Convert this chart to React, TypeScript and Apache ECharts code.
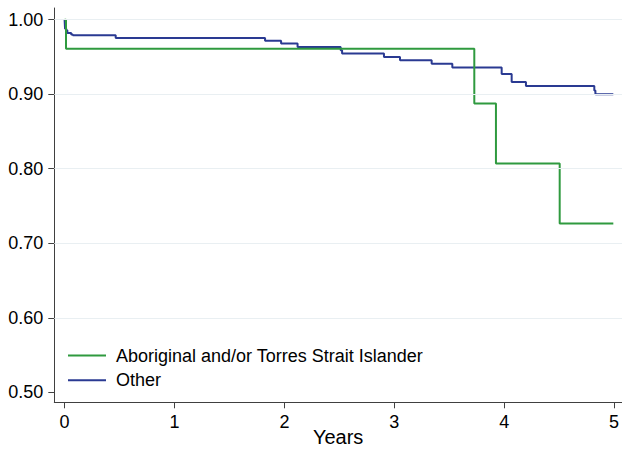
import React, { useEffect, useRef } from "react";
import * as echarts from "echarts";

const seriesNames = ["Aboriginal and/or Torres Strait Islander", "Other"];
const xTicks = [0, 1, 2, 3, 4, 5];
const yTicks = [0.5, 0.6, 0.7, 0.8, 0.9, 1.0];
const gridValues = [0.6, 0.7, 0.8, 0.9, 1.0];

// Kaplan–Meier step points [years, survival]
const aboriginal: [number, number][] = [
  [0, 1.0],
  [0.013, 0.961],
  [3.728, 0.8875],
  [3.925, 0.807],
  [4.505, 0.7264],
  [4.993, 0.7264],
];

const other: [number, number][] = [
  [0, 1.0],
  [0.004, 0.988],
  [0.015, 0.986],
  [0.025, 0.982],
  [0.06, 0.98],
  [0.075, 0.979],
  [0.465, 0.9756],
  [1.824, 0.9716],
  [1.97, 0.968],
  [2.12, 0.9635],
  [2.512, 0.959],
  [2.525, 0.9546],
  [2.906, 0.95],
  [3.052, 0.9456],
  [3.34, 0.941],
  [3.528, 0.936],
  [3.977, 0.927],
  [4.068, 0.9165],
  [4.198, 0.911],
  [4.82, 0.905],
  [4.83, 0.9],
  [4.993, 0.9],
];

const GREEN = "#2f9a3f";
const BLUE = "#2a3a92";
const FONT = "'Liberation Sans', Arial, Helvetica, sans-serif";

export default function App() {
  const ref = useRef<HTMLDivElement>(null);
  useEffect(() => {
    document.body.style.margin = "0";
    const chart = echarts.init(ref.current!, null, { renderer: "svg" });
    chart.setOption({
      animation: false,
      backgroundColor: "#ffffff",
      textStyle: { fontFamily: FONT },
      grid: {
        left: 54.3,
        right: 0,
        top: 8,
        bottom: 47.7,
        containLabel: false,
        outerBoundsMode: "none",
      },
      legend: {
        data: seriesNames,
        orient: "vertical",
        left: 68,
        top: 346.5,
        padding: 0,
        itemWidth: 38,
        itemHeight: 2,
        itemGap: 6.7,
        icon: "rect",
        selectedMode: false,
        textStyle: {
          fontFamily: FONT,
          fontSize: 18,
          lineHeight: 18,
          color: "#000",
          padding: [0, 0, 0, 5],
        },
      },
      xAxis: {
        type: "value",
        min: -0.0937,
        max: 5.072,
        name: "Years",
        nameLocation: "middle",
        nameGap: 25,
        nameMoveOverlap: false,
        nameTextStyle: { fontFamily: FONT, fontSize: 20, color: "#000" },
        axisLine: { show: true, onZero: false, lineStyle: { color: "#404040", width: 1 } },
        axisTick: { show: true, length: 6, customValues: xTicks, lineStyle: { color: "#404040" } },
        axisLabel: {
          customValues: xTicks,
          fontFamily: FONT,
          fontSize: 18,
          color: "#000",
          margin: 11,
          formatter: (v: number) => String(v),
        },
        splitLine: { show: false },
      },
      yAxis: {
        type: "value",
        min: 0.4866,
        max: 1.0157,
        axisLine: { show: true, onZero: false, lineStyle: { color: "#404040", width: 1 } },
        axisTick: { show: true, length: 6, customValues: yTicks, lineStyle: { color: "#404040" } },
        axisLabel: {
          customValues: yTicks,
          fontFamily: FONT,
          fontSize: 18,
          color: "#000",
          margin: 11,
          formatter: (v: number) => v.toFixed(2),
        },
        splitLine: { show: false },
      },
      series: [
        {
          name: "grid",
          type: "line",
          data: [],
          z: 1,
          silent: true,
          markLine: {
            silent: true,
            symbol: "none",
            label: { show: false },
            lineStyle: { color: "#e9eff2", width: 1, type: "solid" },
            data: gridValues.map((v) => ({ yAxis: v })),
          },
        },
        {
          name: seriesNames[1],
          type: "line",
          step: "end",
          data: other,
          showSymbol: false,
          symbol: "none",
          color: BLUE,
          lineStyle: { color: BLUE, width: 2 },
          z: 2,
        },
        {
          name: seriesNames[0],
          type: "line",
          step: "end",
          data: aboriginal,
          showSymbol: false,
          symbol: "none",
          color: GREEN,
          lineStyle: { color: GREEN, width: 2 },
          z: 3,
        },
      ],
    });
    return () => chart.dispose();
  }, []);
  return <div ref={ref} style={{ width: 622, height: 450 }} />;
}
